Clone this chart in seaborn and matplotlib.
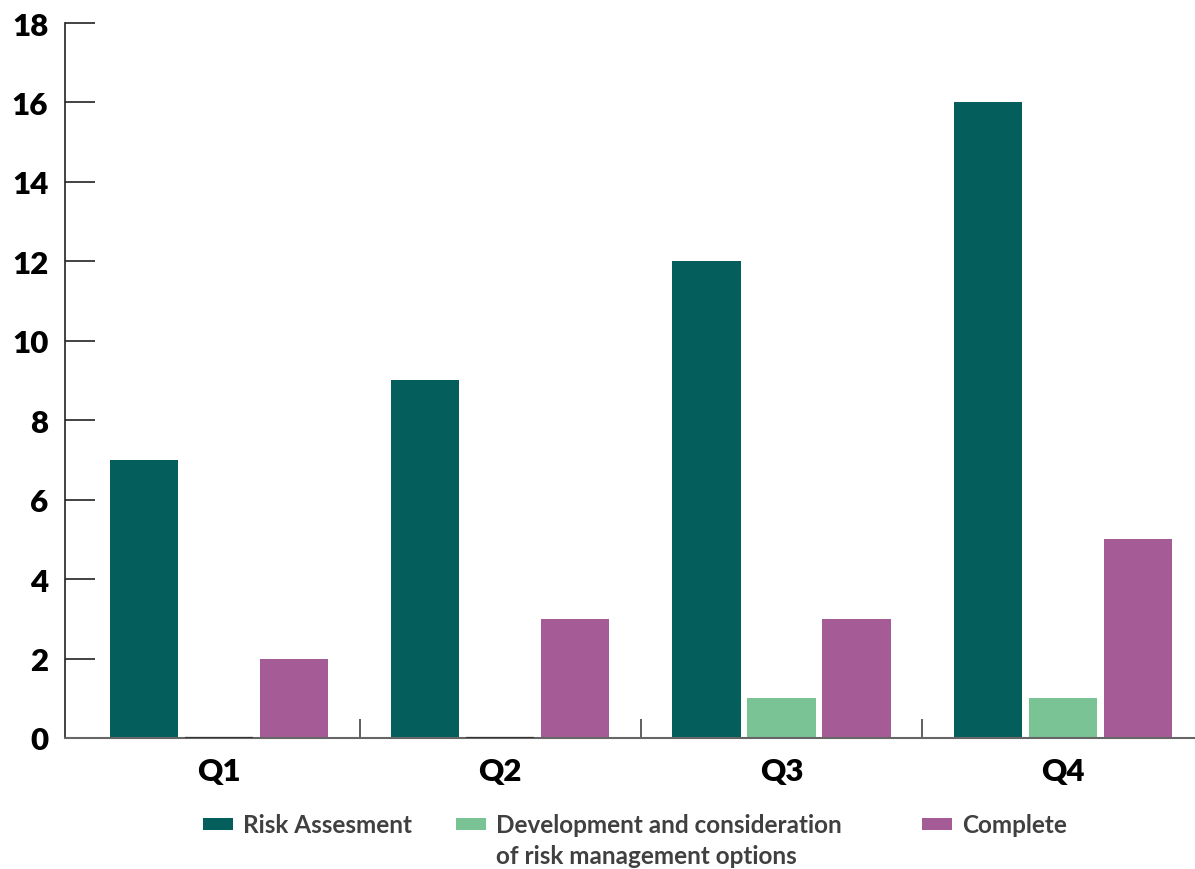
import matplotlib
matplotlib.use("Agg")
import matplotlib.pyplot as plt
import seaborn as sns
import pandas as pd
from matplotlib.patches import Patch
from matplotlib.ticker import FixedLocator

quarters = ["Q1", "Q2", "Q3", "Q4"]
series_names = ["Risk Assesment",
                "Development and consideration of risk management options",
                "Complete"]
legend_first_lines = ["Risk Assesment", "Development and consideration", "Complete"]
legend_second_line = "of risk management options"
risk_assessment = [7, 9, 12, 16]
development = [0, 0, 1, 1]
complete = [2, 3, 3, 5]
y_ticks = [0, 2, 4, 6, 8, 10, 12, 14, 16, 18]
colors = ["#045E5B", "#79C394", "#A55C96"]

df = pd.DataFrame({
    "quarter": quarters * 3,
    "series": [series_names[0]] * 4 + [series_names[1]] * 4 + [series_names[2]] * 4,
    "value": risk_assessment + development + complete,
})

sns.set_style("white")
plt.rcParams["font.family"] = ["Lato", "DejaVu Sans"]

fig = plt.figure(figsize=(11.95, 8.7), dpi=100)
ax = fig.add_axes([0.0544, 0.1506, 0.9456, 0.8218])

sns.barplot(data=df, x="quarter", y="value", hue="series", order=quarters,
            hue_order=series_names, palette=colors, width=0.8, gap=0.09,
            saturation=1, legend=False, ax=ax, linewidth=0)

# empty bars still leave a thin dark stroke on the baseline
for bar in ax.patches:
    if bar.get_height() == 0:
        bar.set_edgecolor("#333333")
        bar.set_linewidth(1.6)
        bar.set_zorder(3)

ax.set_xlim(-0.548, 3.47)
ax.set_ylim(0, 18)
ax.set_yticks(y_ticks)
ax.set_yticklabels([str(t) for t in y_ticks], fontsize=22.5, fontweight="heavy")
ax.set_xticks(range(len(quarters)))
ax.set_xticklabels(quarters, fontsize=22.5, fontweight="heavy")
ax.xaxis.set_minor_locator(FixedLocator([0.5, 1.5, 2.5]))
ax.tick_params(axis="y", direction="in", length=21.6, width=1.2, color="#222222",
               pad=12, left=True, labelcolor="black")
ax.tick_params(axis="x", which="major", length=0, pad=14, labelcolor="black")
ax.tick_params(axis="x", which="minor", direction="in", length=14, width=1.2,
               color="#444444", bottom=True)
ax.set_xlabel("")
ax.set_ylabel("")
for side in ["top", "right"]:
    ax.spines[side].set_visible(False)
ax.spines["left"].set_color("#222222")
ax.spines["left"].set_linewidth(1.2)
ax.spines["bottom"].set_color("#666666")
ax.spines["bottom"].set_linewidth(1.5)

# one legend entry per column, each anchored at its own position
legend_x = [0.1695, 0.3816, 0.7715]
legend_y = 0.0506
legend_size = 17.5
legends = []
for label, color, x in zip(legend_first_lines, colors, legend_x):
    leg = fig.legend([Patch(facecolor=color, edgecolor="none")], [label],
                     loc="center left", bbox_to_anchor=(x, legend_y),
                     frameon=False, handlelength=1.25, handleheight=0.42,
                     handletextpad=0.4, borderaxespad=0, borderpad=0,
                     prop={"size": legend_size, "weight": "bold"}, labelcolor="#404040")
    legends.append(leg)

fig.canvas.draw()
first_text = legends[1].get_texts()[0]
bb = first_text.get_window_extent(fig.canvas.get_renderer())
x0 = bb.x0 / fig.bbox.width
fig.text(x0, legend_y - 31 / 870, legend_second_line, ha="left", va="center",
         fontsize=legend_size, fontweight="bold", color="#404040")

fig.savefig("out.png", dpi=100)
